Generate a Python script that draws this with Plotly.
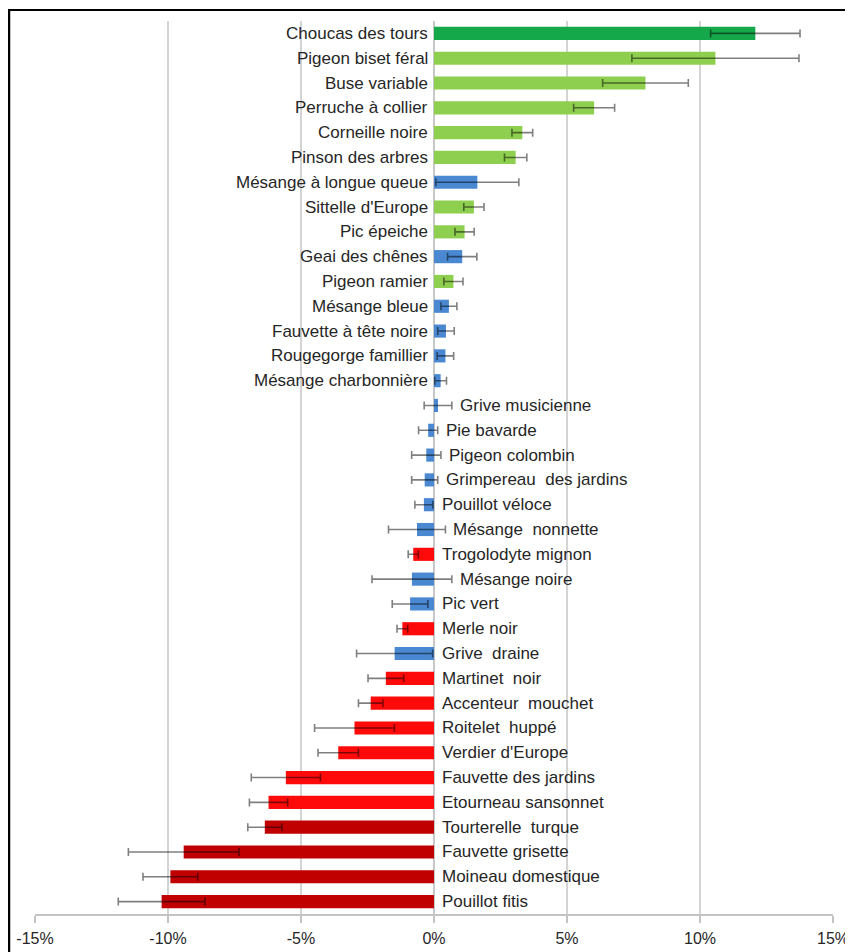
import plotly.graph_objects as go

species = [
    "Choucas des tours", "Pigeon biset féral", "Buse variable", "Perruche à collier",
    "Corneille noire", "Pinson des arbres", "Mésange à longue queue", "Sittelle d'Europe",
    "Pic épeiche", "Geai des chênes", "Pigeon ramier", "Mésange bleue",
    "Fauvette à tête noire", "Rougegorge famillier", "Mésange charbonnière",
    "Grive musicienne", "Pie bavarde", "Pigeon colombin", "Grimpereau  des jardins",
    "Pouillot véloce", "Mésange  nonnette", "Trogolodyte mignon", "Mésange noire",
    "Pic vert", "Merle noir", "Grive  draine", "Martinet  noir", "Accenteur  mouchet",
    "Roitelet  huppé", "Verdier d'Europe", "Fauvette des jardins", "Etourneau sansonnet",
    "Tourterelle  turque", "Fauvette grisette", "Moineau domestique", "Pouillot fitis",
]

trend = [
    12.08, 10.58, 7.95, 6.02, 3.32, 3.07, 1.63, 1.50,
    1.15, 1.06, 0.73, 0.56, 0.45, 0.43, 0.25,
    0.15, -0.22, -0.29, -0.35, -0.38, -0.64, -0.78, -0.83,
    -0.90, -1.19, -1.48, -1.81, -2.38, -2.99, -3.60, -5.57, -6.22,
    -6.36, -9.41, -9.91, -10.24,
]

error = [
    1.68, 3.14, 1.61, 0.77, 0.39, 0.42, 1.56, 0.38,
    0.36, 0.55, 0.36, 0.30, 0.31, 0.31, 0.22,
    0.52, 0.36, 0.55, 0.49, 0.34, 1.07, 0.19, 1.50,
    0.67, 0.20, 1.43, 0.67, 0.46, 1.50, 0.76, 1.30, 0.72,
    0.64, 2.08, 1.03, 1.63,
]

status = [
    "strong_up", "up", "up", "up", "up", "up", "stable", "up",
    "up", "stable", "up", "stable", "stable", "stable", "stable",
    "stable", "stable", "stable", "stable", "stable", "stable", "down", "stable",
    "stable", "down", "stable", "down", "down", "down", "down", "down", "down",
    "strong_down", "strong_down", "strong_down", "strong_down",
]

tick_vals = [-15, -10, -5, 0, 5, 10, 15]
tick_text = ["-15%", "-10%", "-5%", "0%", "5%", "10%", "15%"]

palette = {
    "strong_up": "#14a84a",
    "up": "#8fcf4f",
    "stable": "#4a89d2",
    "down": "#ff0a0a",
    "strong_down": "#c00000",
}
colors = [palette[s] for s in status]

fig = go.Figure()
fig.add_trace(go.Bar(
    y=species, x=trend, orientation="h",
    marker=dict(color=colors, line=dict(width=0)),
    error_x=dict(type="data", array=error, visible=True,
                 color="rgba(0,0,0,0.5)", thickness=1.6, width=4),
    hoverinfo="skip",
))

label_font = dict(size=17, color="#262626", family="Liberation Sans, Arial, sans-serif")
annotations = []
for name, v, e in zip(species, trend, error):
    if v - e > 0:
        annotations.append(dict(x=0, y=name, xref="x", yref="y", text=name,
                                showarrow=False, xanchor="right", xshift=-4,
                                font=label_font))
    else:
        annotations.append(dict(x=max(0, v + e), y=name, xref="x", yref="y", text=name,
                                showarrow=False, xanchor="left", xshift=6,
                                font=label_font))

# page body has an 8px margin: figure origin sits at (8, 8) in the screenshot
W, H = 845, 944
L, R, T, B = 27, 20, 13, 38
pw, ph = W - L - R, H - T - B

def px(xp):
    return (xp - L) / pw

def py(yp):
    return (H - B - yp) / ph

shapes = [
    dict(type="line", xref="paper", yref="paper", x0=px(0), x1=px(W),
         y0=py(2), y1=py(2), line=dict(color="black", width=2)),
    dict(type="line", xref="paper", yref="paper", x0=px(1), x1=px(1),
         y0=py(2), y1=py(H), line=dict(color="black", width=2.5)),
]

fig.update_layout(
    width=W, height=H,
    margin=dict(l=L, r=R, t=T, b=B, autoexpand=False),
    paper_bgcolor="white", plot_bgcolor="white",
    showlegend=False,
    bargap=0.47,
    annotations=annotations,
    shapes=shapes,
    xaxis=dict(range=[-15, 15], tickvals=tick_vals, ticktext=tick_text,
               automargin=False,
               showgrid=True, gridcolor="#d4d4d4", gridwidth=2,
               zeroline=True, zerolinecolor="#c8c8c8", zerolinewidth=1.5,
               showline=True, linecolor="#c4c4c4", linewidth=2,
               ticks="outside", ticklen=7, tickcolor="#c4c4c4", tickwidth=2,
               ticklabelstandoff=2,
               tickfont=dict(size=16, color="#262626",
                             family="Liberation Sans Narrow, Liberation Sans, Arial, sans-serif"),
               fixedrange=True),
    yaxis=dict(autorange="reversed", showticklabels=False, showgrid=False,
               automargin=False,
               zeroline=False, showline=False, ticks="", fixedrange=True),
)

fig.write_html("out.html")
